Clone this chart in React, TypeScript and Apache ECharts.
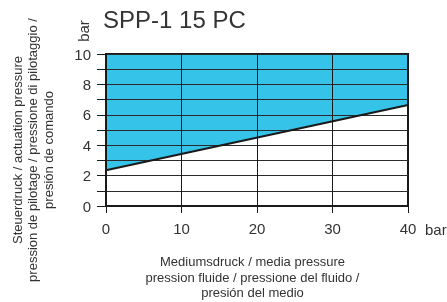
import React, { useEffect, useRef } from "react";
import * as echarts from "echarts";

const titleText = "SPP-1 15 PC";
const xTicks = [0, 10, 20, 30, 40];
const yTicks = [0, 2, 4, 6, 8, 10];
const mediaPressure = [0, 40];
const actuationPressure = [2.35, 6.65];
const yNameLines = [
  "Steuerdruck / actuation pressure",
  "pression de pilotage / pressione di pilotaggio /",
  "presión de comando",
];
const xNameLines = [
  "Mediumsdruck / media pressure",
  "pression fluide / pressione del fluido /",
  "presión del medio",
];
const unitLabel = "bar";

const FONT = "'Liberation Sans', Arial, Helvetica, sans-serif";
const TEXT = "#333";
const LINE = "#1a1a1a";
const BLUE = "#35C3E9";

export default function App() {
  const ref = useRef<HTMLDivElement>(null);
  useEffect(() => {
    if (!ref.current) return;
    const chart = echarts.init(ref.current, null, { renderer: "svg" });
    const points = mediaPressure.map((x, i) => [x, actuationPressure[i]]);
    chart.setOption({
      animation: false,
      textStyle: { fontFamily: FONT },
      grid: {
        left: 106,
        right: 39,
        top: 54,
        bottom: 96,
        show: true,
        borderColor: LINE,
        borderWidth: 2,
        backgroundColor: "transparent",
        z: 5,
      },
      xAxis: {
        type: "value",
        min: xTicks[0],
        max: xTicks[xTicks.length - 1],
        interval: 10,
        z: 5,
        axisLine: { show: true, lineStyle: { color: LINE, width: 2 } },
        axisTick: { show: true, length: 7, lineStyle: { color: LINE, width: 1 } },
        axisLabel: {
          margin: 15,
          fontSize: 15,
          color: TEXT,
          fontFamily: FONT,
          formatter: (v: number) => (xTicks.includes(v) ? String(v) : ""),
        },
        splitLine: { show: true, lineStyle: { color: LINE, width: 1 } },
      },
      yAxis: {
        type: "value",
        min: 0,
        max: 10,
        interval: 1,
        z: 5,
        axisLine: { show: true, lineStyle: { color: LINE, width: 2 } },
        axisTick: { show: true, length: 9, lineStyle: { color: LINE, width: 1 } },
        axisLabel: {
          margin: 15,
          fontSize: 15,
          color: TEXT,
          fontFamily: FONT,
          formatter: (v: number) => (yTicks.includes(v) ? String(v) : ""),
        },
        splitLine: { show: true, lineStyle: { color: "#2a2a2a", width: 1 } },
      },
      series: [
        {
          type: "line",
          data: points,
          z: 1,
          showSymbol: false,
          symbol: "none",
          lineStyle: { width: 0, opacity: 0 },
          areaStyle: { origin: "end", color: BLUE, opacity: 1 },
        },
        {
          type: "line",
          data: points,
          z: 6,
          showSymbol: false,
          symbol: "none",
          lineStyle: { color: LINE, width: 2 },
        },
      ],
      graphic: [
        {
          type: "text",
          x: 103,
          y: 19.5,
          style: {
            text: titleText,
            fontSize: 24,
            fontFamily: FONT,
            fill: TEXT,
            textAlign: "left",
            textVerticalAlign: "middle",
          },
        },
        {
          type: "text",
          x: 83,
          y: 31,
          rotation: Math.PI / 2,
          style: {
            text: unitLabel,
            fontSize: 15,
            fontFamily: FONT,
            fill: TEXT,
            textAlign: "center",
            textVerticalAlign: "middle",
          },
        },
        {
          type: "text",
          x: 425,
          y: 229,
          style: {
            text: unitLabel,
            fontSize: 15,
            fontFamily: FONT,
            fill: TEXT,
            textAlign: "left",
            textVerticalAlign: "middle",
          },
        },
        {
          type: "text",
          x: 32.5,
          y: 150,
          rotation: Math.PI / 2,
          style: {
            text: yNameLines.join("\n"),
            fontSize: 13,
            lineHeight: 15.5,
            fontFamily: FONT,
            fill: TEXT,
            textAlign: "center",
            textVerticalAlign: "middle",
          },
        },
        {
          type: "text",
          x: 252.5,
          y: 277,
          style: {
            text: xNameLines.join("\n"),
            fontSize: 13,
            lineHeight: 15.5,
            fontFamily: FONT,
            fill: TEXT,
            textAlign: "center",
            textVerticalAlign: "middle",
          },
        },
      ],
    });
    return () => chart.dispose();
  }, []);
  return (
    <div
      ref={ref}
      style={{ position: "fixed", left: 0, top: 0, width: 447, height: 302 }}
    />
  );
}
